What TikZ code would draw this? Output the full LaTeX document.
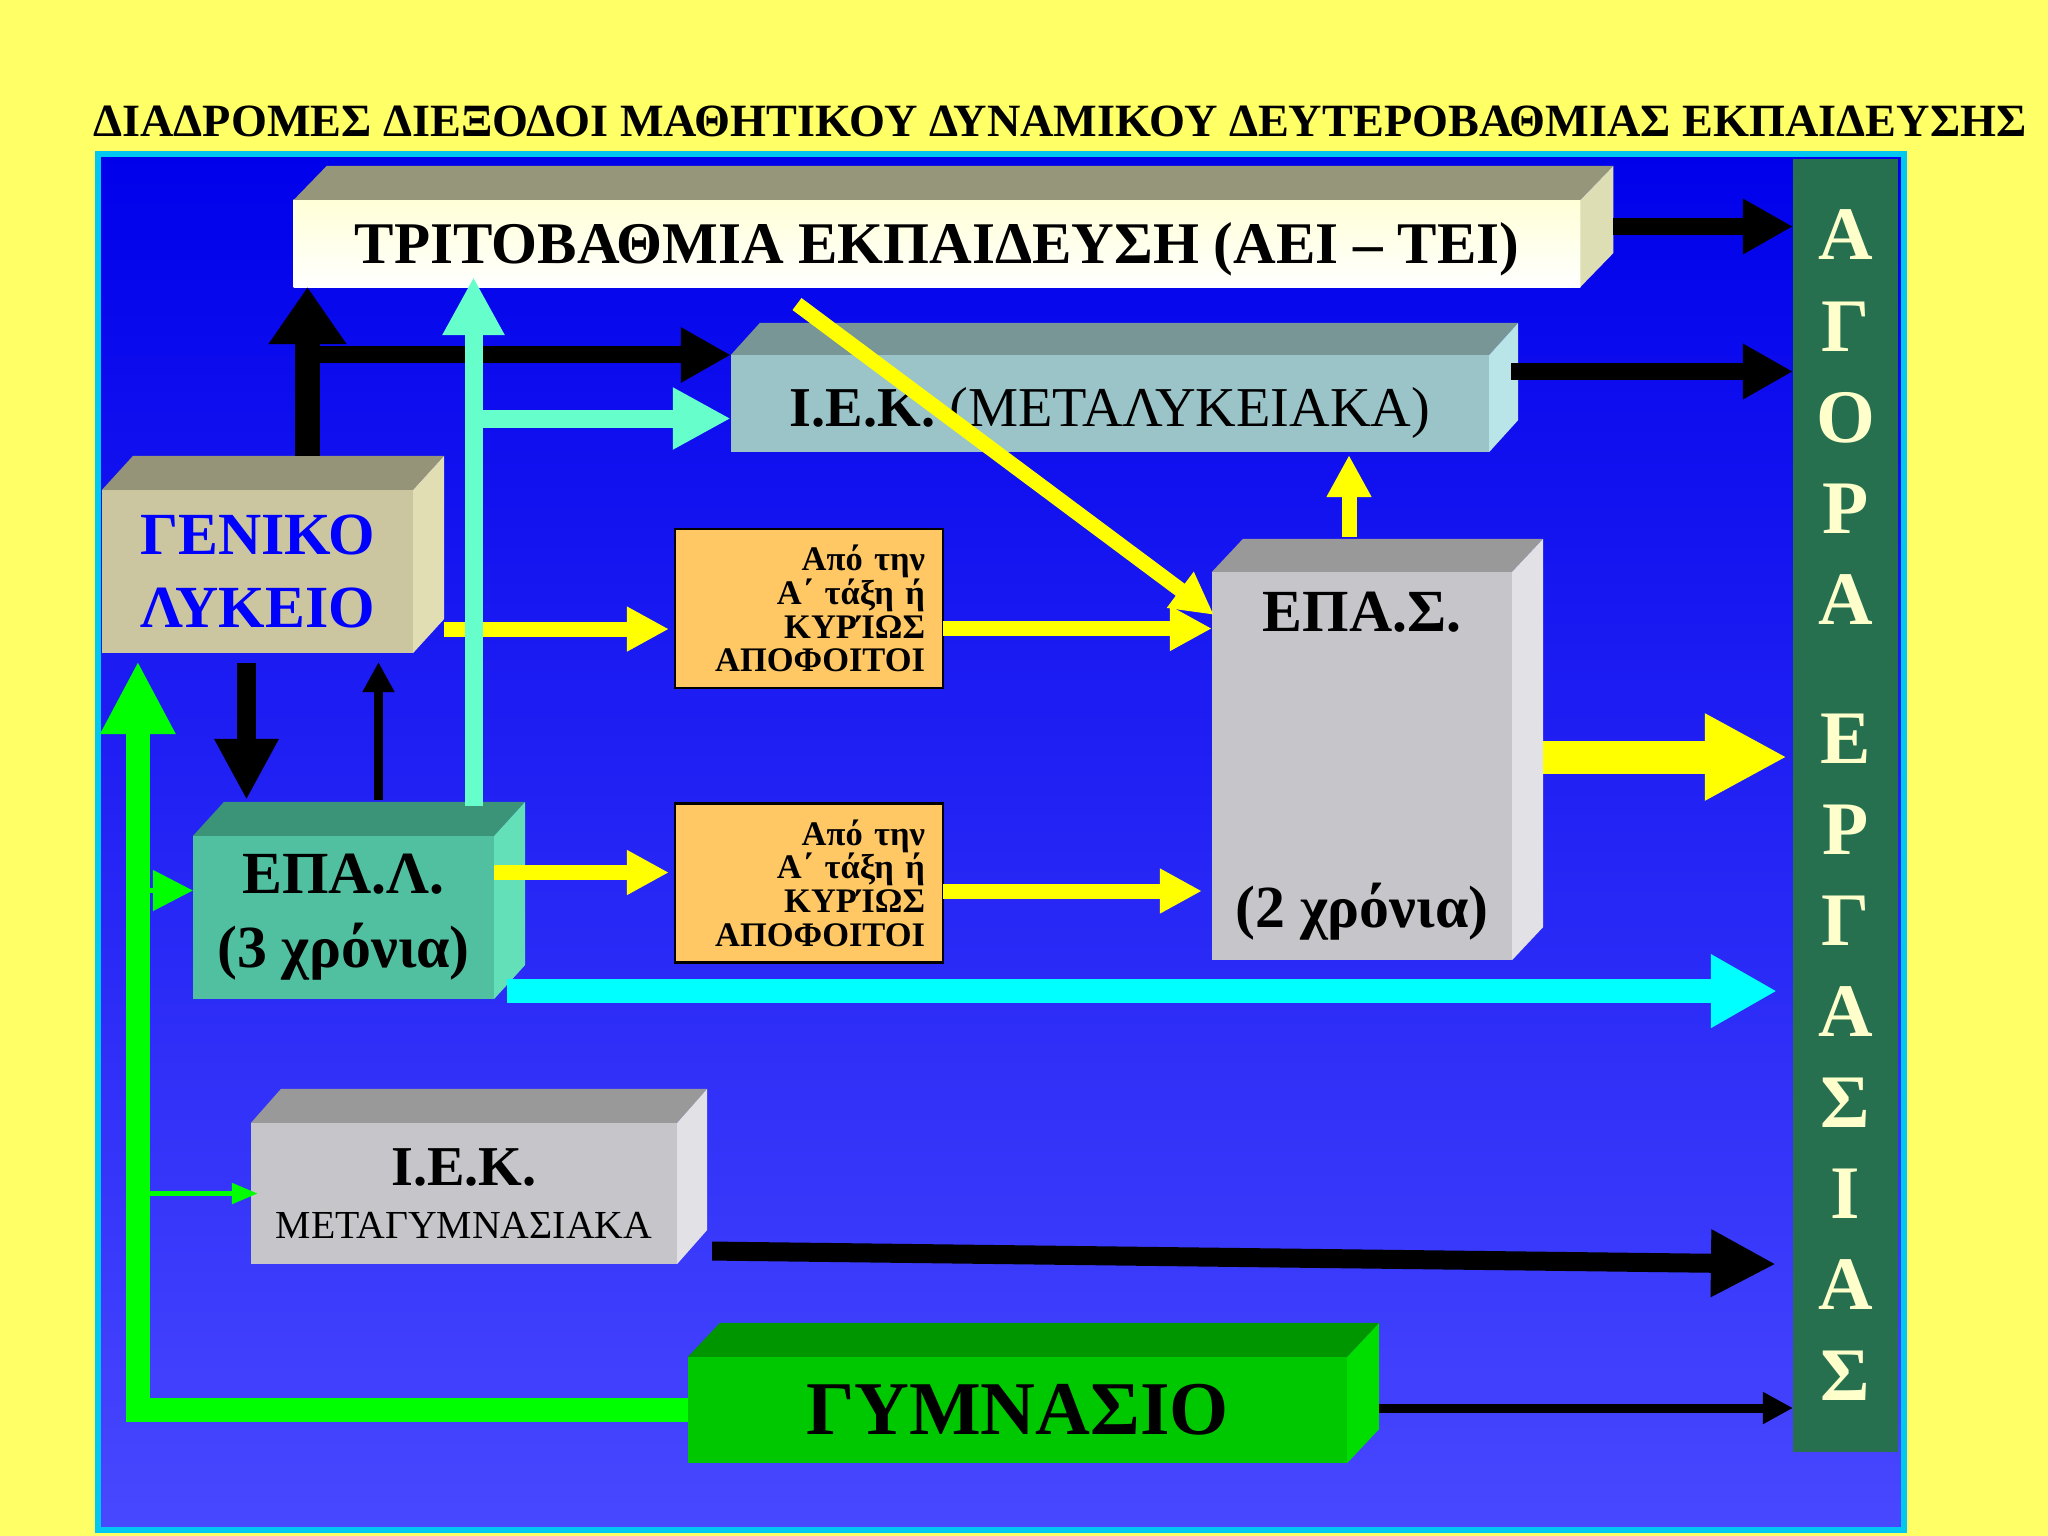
\documentclass[tikz,border=0pt]{standalone}
\usepackage{fontspec}
\setmainfont{Liberation Serif}
\usepackage{tikz}
\usetikzlibrary{arrows.meta, calc}

\definecolor{bgYellow}{RGB}{255,255,102}
\definecolor{panelTop}{RGB}{0,0,235}
\definecolor{panelBottom}{RGB}{72,72,255}
\definecolor{panelRim}{RGB}{0,200,240}
\definecolor{triFront}{RGB}{255,255,215}
\definecolor{triTop}{RGB}{150,150,122}
\definecolor{triSide}{RGB}{222,222,180}
\definecolor{iekFront}{RGB}{155,196,200}
\definecolor{iekTop}{RGB}{120,150,150}
\definecolor{iekSide}{RGB}{185,228,232}
\definecolor{lykFront}{RGB}{204,198,160}
\definecolor{lykTop}{RGB}{150,148,120}
\definecolor{lykSide}{RGB}{226,222,180}
\definecolor{epalFront}{RGB}{80,192,160}
\definecolor{epalTop}{RGB}{60,148,120}
\definecolor{epalSide}{RGB}{100,224,184}
\definecolor{greyFront}{RGB}{198,198,202}
\definecolor{greyTop}{RGB}{153,153,153}
\definecolor{greySide}{RGB}{226,226,230}
\definecolor{gymFront}{RGB}{0,200,0}
\definecolor{gymTop}{RGB}{0,150,0}
\definecolor{gymSide}{RGB}{0,222,0}
\definecolor{noteOrange}{RGB}{255,200,100}
\definecolor{aquaLine}{RGB}{102,255,204}
\definecolor{cyanLine}{RGB}{0,255,255}
\definecolor{greenLine}{RGB}{0,255,0}
\definecolor{yellowLine}{RGB}{255,255,0}
\definecolor{agoraGreen}{RGB}{38,112,80}
\definecolor{letterCream}{RGB}{255,255,204}
\definecolor{lykText}{RGB}{0,0,255}

% top and right faces of a box drawn as a node
\newcommand{\boxsides}[5]{%
  \fill[#4] (#1.north west) -- ($(#1.north west)+(#2,#3)$) -- ($(#1.north east)+(#2,#3)$) -- (#1.north east) -- cycle;
  \fill[#5] (#1.north east) -- ($(#1.north east)+(#2,#3)$) -- ($(#1.south east)+(#2,#3)$) -- (#1.south east) -- cycle;
}

\begin{document}
\begin{tikzpicture}[
        x=0.01cm, y=-0.01cm,
        faceNode/.style={rectangle, outer sep=0pt, inner sep=0pt, align=center},
        noteNode/.style={rectangle, draw=black, line width=0.8pt, fill=noteOrange, outer sep=0pt, inner sep=0pt,
            minimum width=2.68cm, minimum height=1.59cm, text width=2.32cm, align=right,
            font=\bfseries\fontsize{9.8}{9.6}\selectfont},
        flow/.style n args={3}{line width=#1, -{Triangle[length=#2, width=#3]}},
        blackArrow/.style={draw=black, flow={0.17cm}{0.50cm}{0.52cm}},
        trunkArrow/.style={draw=black, flow={0.24cm}{0.57cm}{0.74cm}},
        downArrow/.style={draw=black, flow={0.18cm}{0.61cm}{0.60cm}},
        thinArrow/.style={draw=black, flow={0.09cm}{0.30cm}{0.30cm}},
        lowArrow/.style={draw=black, flow={0.19cm}{0.65cm}{0.63cm}},
        aquaArrow/.style={draw=aquaLine, flow={0.18cm}{0.58cm}{0.58cm}},
        yellowArrow/.style={draw=yellowLine, flow={0.15cm}{0.42cm}{0.42cm}},
        bigYellow/.style={draw=yellowLine, flow={0.33cm}{0.82cm}{0.81cm}},
        cyanArrow/.style={draw=cyanLine, flow={0.24cm}{0.66cm}{0.69cm}},
        greenTrunk/.style={draw=greenLine, flow={0.24cm}{0.73cm}{0.70cm}},
        greenTwig/.style={draw=greenLine, flow={0.05cm}{0.40cm}{0.40cm}}
    ]
        \fill[bgYellow] (0,0) rectangle (2048,1536);
        \useasboundingbox (0,0) rectangle (2048,1536);

        \node[font=\bfseries\fontsize{13.15}{15}\selectfont] (title) at (1060,121)
            {ΔΙΑΔΡΟΜΕΣ ΔΙΕΞΟΔΟΙ ΜΑΘΗΤΙΚΟΥ ΔΥΝΑΜΙΚΟΥ ΔΕΥΤΕΡΟΒΑΘΜΙΑΣ ΕΚΠΑΙΔΕΥΣΗΣ};
        \shade[top color=panelTop, bottom color=panelBottom, draw=panelRim, line width=0.06cm] (98,154) rectangle (1904,1530);

        % boxes
        \node[faceNode, top color=triFront, bottom color=white, minimum width=12.86cm, minimum height=0.87cm,
            font=\bfseries\fontsize{16.8}{19}\selectfont] (tritov) at (937,243.5)
            {\smash{\raisebox{-0.2cm}{ΤΡΙΤΟΒΑΘΜΙΑ ΕΚΠΑΙΔΕΥΣΗ (ΑΕΙ – ΤΕΙ)}}};
        \boxsides{tritov}{33}{-34}{triTop}{triSide}
        \node[faceNode, fill=iekFront, minimum width=7.58cm, minimum height=0.97cm,
            font=\fontsize{16}{19}\selectfont] (iekLyk) at (1110,403.5)
            {\smash{\raisebox{-0.23cm}{\textbf{Ι.Ε.Κ.} (ΜΕΤΑΛΥΚΕΙΑΚΑ)}}};
        \boxsides{iekLyk}{29}{-32}{iekTop}{iekSide}
        \node[faceNode, fill=lykFront, minimum width=3.11cm, minimum height=1.63cm, text=lykText,
            font=\bfseries\fontsize{17}{21}\selectfont] (lykeio) at (257.5,571.5) {ΓΕΝΙΚΟ\\ΛΥΚΕΙΟ};
        \boxsides{lykeio}{31}{-34}{lykTop}{lykSide}
        \node[faceNode, fill=epalFront, minimum width=3.01cm, minimum height=1.63cm,
            font=\bfseries\fontsize{17}{21}\selectfont] (epal) at (343.5,917.5) {ΕΠΑ.Λ.\\(3 χρόνια)};
        \boxsides{epal}{31}{-34}{epalTop}{epalSide}
        \node[noteNode] (or1) at (809,608.5) {Από την\\Α΄ τάξη ή\\ΚΥΡΊΩΣ\\ΑΠΟΦΟΙΤΟΙ};
        \node[noteNode] (or2) at (809,883) {Από την\\Α΄ τάξη ή\\ΚΥΡΊΩΣ\\ΑΠΟΦΟΙΤΟΙ};
        \node[faceNode, fill=greyFront, minimum width=3.00cm, minimum height=3.88cm,
            font=\bfseries\fontsize{17}{21}\selectfont] (epas) at (1362,766) {ΕΠΑ.Σ.\\[2.22cm](2 χρόνια)};
        \boxsides{epas}{31}{-33}{greyTop}{greySide}
        \node[faceNode, fill=greyFront, minimum width=4.26cm, minimum height=1.41cm,
            font=\fontsize{11.3}{13}\selectfont] (iekGym) at (464,1193.5)
            {{\bfseries\fontsize{16}{19}\selectfont Ι.Ε.Κ.}\\[0.08cm]ΜΕΤΑΓΥΜΝΑΣΙΑΚΑ};
        \boxsides{iekGym}{30}{-34}{greyTop}{greySide}
        \node[faceNode, fill=gymFront, minimum width=6.59cm, minimum height=1.06cm,
            font=\bfseries\fontsize{21.6}{26}\selectfont] (gym) at (1017.5,1410) {ΓΥΜΝΑΣΙΟ};
        \boxsides{gym}{32}{-34}{gymTop}{gymSide}
        \node[faceNode, fill=agoraGreen, minimum width=1.05cm, minimum height=12.93cm, text=letterCream,
            font=\bfseries\fontsize{21.5}{25.9}\selectfont] (agora) at (1845.5,805.5)
            {Α\\Γ\\Ο\\Ρ\\Α\\[0.48cm]Ε\\Ρ\\Γ\\Α\\Σ\\Ι\\Α\\Σ};

        % connector ends
        \coordinate (triOut) at ($(tritov.east)+(33,-17)$);
        \coordinate (iekOut) at ($(iekLyk.east)+(22,-32)$);
        \coordinate (lykTop) at ($(lykeio.north)+(50,-34)$);
        \coordinate (lykFork) at (lykTop |- iekLyk.north west);
        \coordinate (epalTopEnd) at ($(epal.north)+(130,-30)$);
        \coordinate (aquaFork) at ($(epalTopEnd |- iekLyk.west)+(0,15)$);
        \coordinate (lykDown) at ($(lykeio.south)+(-11,10)$);
        \coordinate (epalUp) at ($(epal.north)+(35,-36)$);
        \coordinate (lykOut) at ($(lykeio.south east)+(31,-24)$);
        \coordinate (or1Out) at ($(or1.east)+(0,20)$);
        \coordinate (epalOut) at ($(epal.east)+(0,-45)$);
        \coordinate (or2Out) at ($(or2.east)+(0,8)$);
        \coordinate (diagStart) at ($(tritov.south)+(-140,17)$);
        \coordinate (diagEnd) at ($(epas.north west)+(2,43)$);
        \coordinate (epasUp) at ($(epas.north)+(-13,-35)$);
        \coordinate (epasOut) at ($(epas.east)+(31,-9)$);
        \coordinate (epalLow) at ($(epal.south east)+(13,-8)$);
        \coordinate (iekGymOut) at ($(iekGym.south east)+(35,-13)$);
        \coordinate (iekGymEnd) at ($(iekGym.south -| agora.west)+(-17,0)$);
        \coordinate (gymOut) at ($(gym.east)+(32,-2)$);
        \coordinate (greenCorner) at ($(gym.west -| lykeio.west)+(36,0)$);
        \coordinate (epalIn) at ($(epal.west)+(0,-27)$);

        % yellow paths
        \draw[yellowArrow, shorten >=0.06cm] (lykOut) -- (lykOut -| or1.west);
        \draw[yellowArrow] (or1Out) -- (or1Out -| epas.west);
        \draw[yellowArrow, shorten >=0.06cm] (epalOut) -- (epalOut -| or2.west);
        \draw[yellowArrow, shorten >=0.1cm] (or2Out) -- (or2Out -| epas.west);
        \draw[yellowArrow] (diagStart) -- (diagEnd);
        \draw[yellowArrow, shorten >=0.03cm] (epasUp) -- (epasUp |- iekLyk.south);
        \draw[bigYellow, shorten >=0.06cm] (epasOut) -- (epasOut -| agora.west);

        % black paths
        \draw[blackArrow] (triOut) -- (triOut -| agora.west);
        \draw[blackArrow] (iekOut) -- (iekOut -| agora.west);
        \draw[trunkArrow] (lykTop) -- (lykTop |- tritov.south);
        \draw[blackArrow] (lykFork) -- (iekLyk.north west);
        \draw[downArrow] (lykDown) -- (lykDown |- epalUp);
        \draw[thinArrow, shorten >=0.09cm] (epalUp) -- (epalUp |- lykeio.south);
        \draw[lowArrow] (iekGymOut) -- (iekGymEnd);
        \draw[thinArrow] (gymOut) -- (gymOut -| agora.west);

        % aqua and cyan paths
        \draw[aquaArrow, shorten >=-0.1cm] (epalTopEnd) -- (epalTopEnd |- tritov.south);
        \draw[aquaArrow] (aquaFork) -- (aquaFork -| iekLyk.west);
        \draw[cyanArrow, shorten >=0.16cm] (epalLow) -- (epalLow -| agora.west);

        % green paths
        \draw[greenTrunk, shorten >=0.08cm] (gym.west) -- (greenCorner) -- (greenCorner |- lykeio.south);
        \draw[greenTwig] (greenCorner |- epalIn) -- (epalIn);
        \draw[greenTwig, -{Triangle[length=0.26cm, width=0.20cm]}] (greenCorner |- iekGym.west) -- ([xshift=0.07cm]iekGym.west);
    \end{tikzpicture}
\end{document}
